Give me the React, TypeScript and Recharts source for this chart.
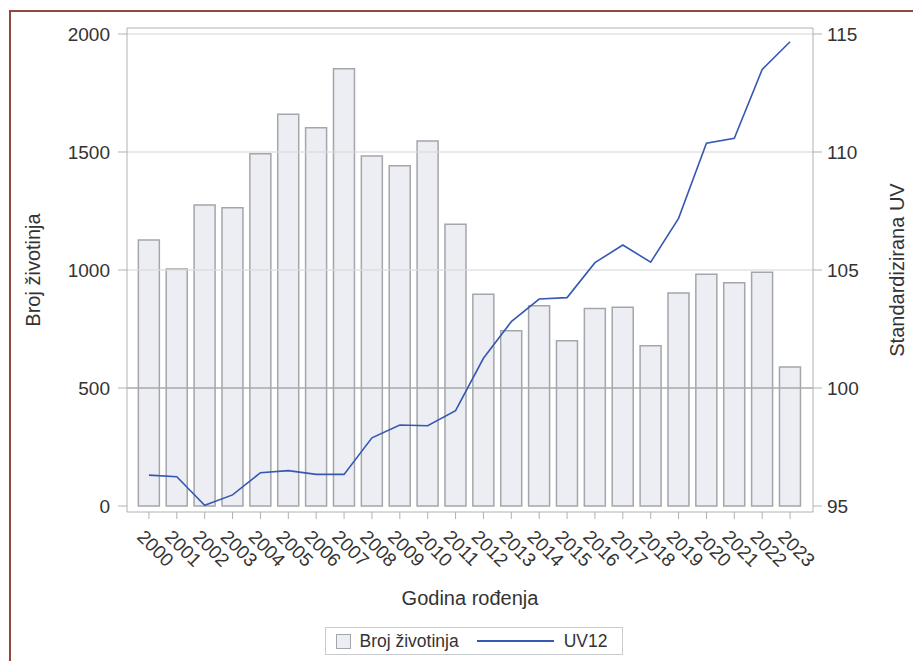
import React from "react"
import {
  Bar,
  ComposedChart,
  Legend,
  Line,
  ReferenceLine,
  XAxis,
  YAxis,
} from "recharts"

const years = [
  "2000", "2001", "2002", "2003", "2004", "2005", "2006", "2007",
  "2008", "2009", "2010", "2011", "2012", "2013", "2014", "2015",
  "2016", "2017", "2018", "2019", "2020", "2021", "2022", "2023",
]

const brojZivotinja = [
  1127, 1004, 1275, 1264, 1493, 1660, 1603, 1853,
  1483, 1442, 1547, 1194, 897, 743, 848, 700,
  837, 842, 679, 903, 982, 946, 990, 589,
]

const uv12 = [
  96.31, 96.24, 95.03, 95.47, 96.41, 96.5, 96.34, 96.34,
  97.89, 98.43, 98.4, 99.04, 101.26, 102.81, 103.77, 103.83,
  105.31, 106.06, 105.33, 107.19, 110.37, 110.58, 113.5, 114.67,
]

const leftTicks = [0, 500, 1000, 1500, 2000]
const rightTicks = [95, 100, 105, 110, 115]

const data = years.map((year, i) => ({
  year,
  broj: brojZivotinja[i],
  uv: uv12[i],
}))

const FONT = "'Liberation Sans', Arial, sans-serif"
const TEXT = "#333333"
const FRAME = "#AEB2B6"
const BAR_FILL = "#ECEEF3"
const BAR_STROKE = "#A3A6AA"
const LINE = "#3558B2"

// pad domains so 0/2000 (95/115) sit a few px inside the frame
const leftDomain = [-25.4, 2025.4]
const rightDomain = [94.746, 115.254]

function XTick(props: any) {
  const { x, y, payload } = props
  const tx = x - 13
  const ty = y + 17
  return (
    <text
      x={tx}
      y={ty}
      transform={`rotate(45, ${tx}, ${ty})`}
      textAnchor="start"
      fontSize={19}
      fontFamily={FONT}
      fill={TEXT}
    >
      {payload.value}
    </text>
  )
}

function LeftLabel(props: any) {
  const { viewBox } = props
  const cx = viewBox.x + 33
  const cy = viewBox.y + viewBox.height / 2
  return (
    <text
      x={cx}
      y={cy}
      transform={`rotate(-90, ${cx}, ${cy})`}
      textAnchor="middle"
      dominantBaseline="central"
      fontSize={20}
      fontFamily={FONT}
      fill={TEXT}
    >
      Broj životinja
    </text>
  )
}

function RightLabel(props: any) {
  const { viewBox } = props
  const cx = viewBox.x + 84
  const cy = viewBox.y + viewBox.height / 2
  return (
    <text
      x={cx}
      y={cy}
      transform={`rotate(-90, ${cx}, ${cy})`}
      textAnchor="middle"
      dominantBaseline="central"
      fontSize={20}
      fontFamily={FONT}
      fill={TEXT}
    >
      Standardizirana UV
    </text>
  )
}

function LegendBox(props: any) {
  const { payload } = props
  return (
    <div
      style={{
        display: "flex",
        justifyContent: "center",
        paddingTop: 4,
        transform: "translateX(17px)",
      }}
    >
      <div
        style={{
          display: "flex",
          alignItems: "center",
          height: 26,
          border: "1px solid #C9CCCF",
          padding: "0 14px 0 10px",
          fontFamily: FONT,
          fontSize: 17.5,
          color: TEXT,
        }}
      >
        {(payload || []).map((entry: any) =>
          entry.type === "line" ? (
            <span key={entry.value} style={{ display: "flex", alignItems: "center" }}>
              <span
                style={{
                  display: "inline-block",
                  width: 77,
                  height: 0,
                  borderTop: `2px solid ${LINE}`,
                  marginRight: 10,
                }}
              />
              {entry.value}
            </span>
          ) : (
            <span
              key={entry.value}
              style={{ display: "flex", alignItems: "center", marginRight: 18 }}
            >
              <span
                style={{
                  display: "inline-block",
                  width: 13,
                  height: 13,
                  background: BAR_FILL,
                  border: `1px solid ${BAR_STROKE}`,
                  marginRight: 9,
                }}
              />
              {entry.value}
            </span>
          )
        )}
      </div>
    </div>
  )
}

export default function App() {
  return (
    <div
      style={{
        position: "fixed",
        left: 0,
        top: 0,
        width: 913,
        height: 661,
        overflow: "hidden",
        background: "#ffffff",
      }}
    >
      <div
        style={{
          position: "absolute",
          left: 9,
          top: 10,
          width: 1000,
          height: 1000,
          border: "2px solid #8F4A3D",
        }}
      />
      <div style={{ position: "absolute", left: 0, top: 0 }}>
        <ComposedChart
          width={913}
          height={661}
          data={data}
          margin={{ top: 28, right: 0, bottom: 0, left: 0 }}
          barCategoryGap="12%"
        >
          <XAxis
            dataKey="year"
            height={111}
            padding={{ left: 8, right: 9 }}
            axisLine={{ stroke: FRAME }}
            tickLine={{ stroke: FRAME }}
            tickSize={7}
            tick={<XTick />}
            interval={0}
            label={{
              value: "Godina rođenja",
              position: "insideBottom",
              offset: 18,
              fontSize: 20,
              fontFamily: FONT,
              fill: TEXT,
            }}
          />
          <YAxis
            yAxisId="left"
            width={127}
            domain={leftDomain}
            ticks={leftTicks}
            allowDataOverflow
            axisLine={{ stroke: FRAME }}
            tickLine={{ stroke: FRAME }}
            tickSize={9}
            tickMargin={8}
            tick={{ fontSize: 19, fontFamily: FONT, fill: TEXT }}
            label={<LeftLabel />}
          />
          <YAxis
            yAxisId="right"
            orientation="right"
            width={100}
            domain={rightDomain}
            ticks={rightTicks}
            allowDataOverflow
            axisLine={{ stroke: FRAME }}
            tickLine={{ stroke: FRAME }}
            tickSize={9}
            tickMargin={5}
            tick={{ fontSize: 19, fontFamily: FONT, fill: TEXT }}
            label={<RightLabel />}
          />
          <Legend verticalAlign="bottom" height={38} content={<LegendBox />} />
          <Bar
            yAxisId="left"
            dataKey="broj"
            name="Broj životinja"
            fill={BAR_FILL}
            stroke={BAR_STROKE}
            strokeWidth={1.5}
            isAnimationActive={false}
          />
          <ReferenceLine yAxisId="left" y={1000} stroke="#DADADA" strokeOpacity={0.6} strokeWidth={2} />
          <ReferenceLine yAxisId="left" y={1500} stroke="#DADADA" strokeOpacity={0.6} strokeWidth={2} />
          <ReferenceLine yAxisId="left" y={2000} stroke="#DADADA" strokeOpacity={0.6} strokeWidth={2} />
          <ReferenceLine yAxisId="left" y={500} stroke="#A8A8A8" strokeWidth={1.5} />
          <ReferenceLine yAxisId="left" y={leftDomain[1]} stroke={FRAME} />
          <Line
            yAxisId="right"
            type="linear"
            dataKey="uv"
            name="UV12"
            stroke={LINE}
            strokeWidth={1.6}
            dot={false}
            isAnimationActive={false}
          />
        </ComposedChart>
      </div>
    </div>
  )
}
